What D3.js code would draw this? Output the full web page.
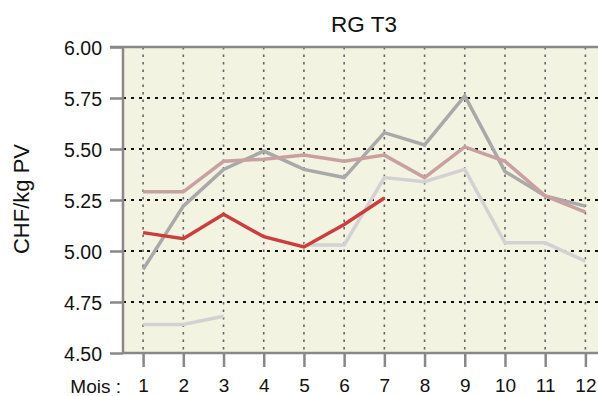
<!DOCTYPE html>
<html>
<head>
<meta charset="utf-8">
<script src="https://cdn.jsdelivr.net/npm/d3@7"></script>
<style>
  html, body { margin: 0; padding: 0; background: #fff; }
  svg { display: block; font-family: "Liberation Sans", Arial, sans-serif; }
</style>
</head>
<body>
<svg id="chart" width="598" height="396"></svg>
<script>
// Monthly prices (CHF/kg PV), one array per series; null = no value
const months = [1, 2, 3, 4, 5, 6, 7, 8, 9, 10, 11, 12];
const seriesDarkGrey  = [4.91, 5.22, 5.40, 5.49, 5.40, 5.36, 5.58, 5.52, 5.76, 5.39, 5.27, 5.22];
const seriesPink      = [5.29, 5.29, 5.44, 5.45, 5.47, 5.44, 5.47, 5.36, 5.51, 5.44, 5.27, 5.19];
const seriesLightGrey = [4.64, 4.64, 4.68, null, 5.03, 5.03, 5.36, 5.34, 5.40, 5.04, 5.04, 4.95];
const seriesRed       = [5.09, 5.06, 5.18, 5.07, 5.02, 5.13, 5.26, null, null, null, null, null];
const yTicks = [4.50, 4.75, 5.00, 5.25, 5.50, 5.75, 6.00];
const title = "RG T3";
const yTitle = "CHF/kg PV";
const xPrefix = "Mois :";

const svg = d3.select("#chart");
const W = 598, H = 396;
const plot = { left: 123, top: 47, bottom: 353, right: 605.5 };
const FONT = "Liberation Sans, Arial, sans-serif";

const x = d3.scaleLinear().domain([0.5, 12.5]).range([plot.left, plot.right]);
const y = d3.scaleLinear().domain([4.5, 6.0]).range([plot.bottom, plot.top]);

// Plot background
svg.append("rect")
  .attr("x", plot.left).attr("y", plot.top)
  .attr("width", W - plot.left).attr("height", plot.bottom - plot.top)
  .attr("fill", "#f3f3e2");

// Vertical dotted grid
svg.append("g").selectAll("line").data(months).join("line")
  .attr("x1", d => x(d)).attr("x2", d => x(d))
  .attr("y1", plot.top).attr("y2", plot.bottom)
  .attr("stroke", "#666").attr("stroke-width", 1.6)
  .attr("stroke-dasharray", "2.5,5");

// Horizontal dotted grid
svg.append("g").selectAll("line").data(yTicks.filter(v => v > 4.5 && v < 6)).join("line")
  .attr("x1", plot.left).attr("x2", W)
  .attr("y1", d => y(d)).attr("y2", d => y(d))
  .attr("stroke", "#111").attr("stroke-width", 2)
  .attr("stroke-dasharray", "3,5");

// Series lines
const line = d3.line()
  .defined(d => d[1] !== null)
  .x(d => x(d[0])).y(d => y(d[1]));

const series = [
  { values: seriesLightGrey, color: "#d2d2d2", width: 3.5 },
  { values: seriesDarkGrey,  color: "#a9a9a9", width: 3.5 },
  { values: seriesPink,      color: "#c9a0a0", width: 3.5 },
  { values: seriesRed,       color: "#cc3d3d", width: 3.5 }
];
series.forEach(s => {
  svg.append("path")
    .datum(months.map((m, i) => [m, s.values[i]]))
    .attr("fill", "none")
    .attr("stroke", s.color)
    .attr("stroke-width", s.width)
    .attr("stroke-linejoin", "miter")
    .attr("d", line);
});

// Axes frame
const frame = svg.append("g").attr("stroke", "#888").attr("stroke-width", 2.5);
frame.append("line").attr("x1", plot.left).attr("x2", plot.left).attr("y1", plot.top).attr("y2", plot.bottom);
frame.append("line").attr("x1", plot.left).attr("x2", W).attr("y1", plot.bottom).attr("y2", plot.bottom);
frame.append("line").attr("x1", 110).attr("x2", W).attr("y1", plot.top).attr("y2", plot.top);

// Y axis
const yAxis = d3.axisLeft(y).tickValues(yTicks).tickFormat(d3.format(".2f"))
  .tickSize(13).tickPadding(8);
const gy = svg.append("g").attr("transform", `translate(${plot.left},0)`).call(yAxis);
gy.attr("font-size", 19.5).attr("font-family", FONT);
gy.select(".domain").remove();
gy.selectAll(".tick line").attr("stroke", "#888").attr("stroke-width", 2.5);
gy.selectAll(".tick text").attr("fill", "#111").attr("dy", "0.36em");

// X axis
const xAxis = d3.axisBottom(x).tickValues(months).tickFormat(d3.format("d"))
  .tickSize(14).tickPadding(12);
const gx = svg.append("g").attr("transform", `translate(0,${plot.bottom})`).call(xAxis);
gx.attr("font-size", 19).attr("font-family", FONT);
gx.select(".domain").remove();
gx.selectAll(".tick line").attr("stroke", "#888").attr("stroke-width", 2.5);
gx.selectAll(".tick text").attr("fill", "#111");

svg.append("text")
  .attr("x", 121).attr("y", 393)
  .attr("text-anchor", "end")
  .attr("font-size", 19).attr("font-family", FONT).attr("fill", "#111")
  .text(xPrefix);

// Title
svg.append("text")
  .attr("x", 364).attr("y", 32)
  .attr("text-anchor", "middle")
  .attr("font-size", 22.5).attr("font-family", FONT).attr("fill", "#111")
  .text(title);

// Y axis title
svg.append("text")
  .attr("transform", "translate(29,199) rotate(-90)")
  .attr("text-anchor", "middle")
  .attr("font-size", 22).attr("font-family", FONT).attr("fill", "#111")
  .text(yTitle);
</script>
</body>
</html>
